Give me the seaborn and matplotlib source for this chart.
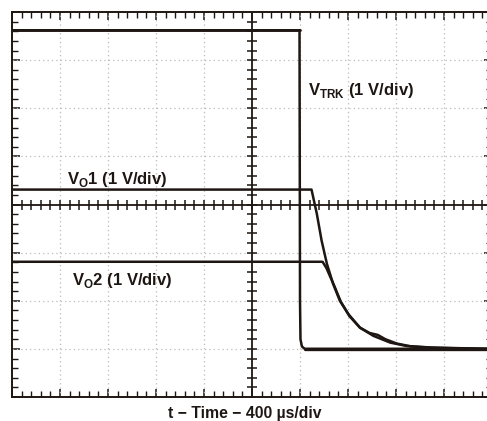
import matplotlib
matplotlib.use("Agg")
import matplotlib.pyplot as plt
import seaborn as sns
import numpy as np
import pandas as pd

# trace data in divisions (x: 0..10 div of 400 us, y: 0..8 div of 1 V)
trk_x = [0.0, 5.99, 6.0, 6.01, 6.04, 6.10, 9.9]
trk_y = [7.62, 7.62, 2.0, 1.2, 1.05, 1.0, 1.0]

vo1_x = [0.0, 6.24, 6.35, 6.45, 6.56, 6.69, 6.83, 7.01, 7.25, 7.53, 7.88, 8.22, 8.71, 9.9]
vo1_y = [4.31, 4.31, 3.81, 3.25, 2.77, 2.35, 2.00, 1.72, 1.44, 1.27, 1.13, 1.06, 1.03, 1.0]

vo2_x = [0.0, 6.47, 6.55, 6.62, 6.71, 6.85, 7.03, 7.25, 7.45, 7.62, 7.78, 8.02, 8.32, 8.8, 9.9]
vo2_y = [2.81, 2.81, 2.68, 2.52, 2.32, 1.98, 1.68, 1.44, 1.33, 1.29, 1.20, 1.11, 1.05, 1.02, 1.0]

df = pd.concat([
    pd.DataFrame({"t": trk_x, "v": trk_y, "trace": "VTRK"}),
    pd.DataFrame({"t": vo1_x, "v": vo1_y, "trace": "VO1"}),
    pd.DataFrame({"t": vo2_x, "v": vo2_y, "trace": "VO2"}),
])

sns.set_style("white")
plt.rcParams["font.family"] = ["Liberation Sans", "DejaVu Sans"]
plt.rcParams["mathtext.fontset"] = "custom"
plt.rcParams["mathtext.bf"] = "Liberation Sans:bold"
plt.rcParams["mathtext.rm"] = "Liberation Sans:bold"

fig = plt.figure(figsize=(4.87, 4.21), dpi=100)
ax = fig.add_axes([12 / 487, (421 - 397) / 421, 480 / 487, 385 / 421])

ink = "#1e1612"

# dotted grid
for k in range(1, 10):
    if k != 5:
        ax.axvline(k, color="#bcbcbc", lw=0.9, ls=(0, (1, 2.5)), zorder=1)
for k in range(1, 8):
    if k != 4:
        ax.axhline(k, color="#bcbcbc", lw=0.9, ls=(0, (1, 2.5)), zorder=1)

# centre cross with ticks
ax.axvline(5, color=ink, lw=1.3, zorder=2)
ax.axhline(4, color=ink, lw=1.3, zorder=2)
tx = np.arange(0.2, 10, 0.2)
ty = np.arange(0.2, 8, 0.2)
ax.plot(tx, np.full_like(tx, 4), ls="none", marker="|", ms=7, mew=1.1, color=ink, zorder=2)
ax.plot(np.full_like(ty, 5), ty, ls="none", marker="_", ms=7, mew=1.1, color=ink, zorder=2)

sns.lineplot(data=df, x="t", y="v", units="trace", estimator=None, sort=False,
             color=ink, lw=1.8, ax=ax, zorder=3)
# thicker flat segments like the scope trace
ax.plot([0, 5.99], [7.62, 7.62], color=ink, lw=2.0, zorder=3)
ax.plot([6.1, 9.9], [1.0, 1.0], color=ink, lw=2.4, zorder=3)

ax.set_xlim(0, 10)
ax.set_ylim(0, 8)
ax.set_xticks(range(11))
ax.set_yticks(range(9))
ax.set_xticks(np.arange(0, 10.01, 0.2), minor=True)
ax.set_yticks(np.arange(0, 8.01, 0.2), minor=True)
ax.tick_params(which="both", direction="in", top=True, bottom=True, left=True, right=True,
               labelbottom=False, labelleft=False, color=ink)
ax.tick_params(which="major", length=6, width=1.1)
ax.tick_params(which="minor", length=4, width=1.0)
for s in ax.spines.values():
    s.set_color(ink)
    s.set_linewidth(1.4)
ax.set_xlabel("")
ax.set_ylabel("")

ax.text(1.15, 4.42, r"V$_\mathbf{O}$1 (1 V/div)", fontsize=12, fontweight="bold", color=ink, zorder=4)
ax.text(1.25, 2.33, r"V$_\mathbf{O}$2 (1 V/div)", fontsize=12, fontweight="bold", color=ink, zorder=4)
ax.text(6.16, 6.27, r"V$_\mathbf{TRK}$ (1 V/div)", fontsize=12, fontweight="bold", color=ink, zorder=4)

fig.text(245 / 487, 1 - 418 / 421, "t \u2212 Time \u2212 400 \u00b5s/div", fontsize=11.3,
         fontweight="bold", color=ink, ha="center", va="baseline")

fig.savefig("out.png", dpi=100, facecolor="white")
